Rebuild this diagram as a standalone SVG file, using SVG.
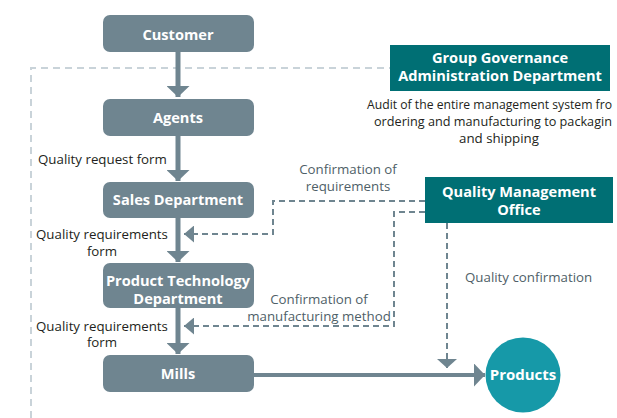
<svg xmlns="http://www.w3.org/2000/svg" width="617" height="418" viewBox="0 0 617 418">
<style>
.node{fill:#6f8590}
.teal{fill:#006f74}
.nt{font-family:"Open Sans","Noto Sans",sans-serif;font-weight:bold;font-size:14.6px;fill:#fff;text-anchor:middle}
.lbl{font-family:"Open Sans","Noto Sans",sans-serif;font-size:13.3px;fill:#231f20}
.glbl{font-family:"Open Sans","Noto Sans",sans-serif;font-size:13.3px;fill:#4f5f68}
.solid{stroke:#6f8590;stroke-width:5;fill:none}
.dash{stroke:#6f8590;stroke-width:2;stroke-dasharray:6 4;fill:none}
.outer{stroke:#c9d3d9;stroke-width:2;stroke-dasharray:7 5;fill:none}
</style>
<defs>
<marker id="ah" viewBox="0 0 11 23" refX="11" refY="11.5" markerWidth="11" markerHeight="23" markerUnits="userSpaceOnUse" orient="auto"><path d="M0,0 L11,11.5 L0,23 z" fill="#6f8590"/></marker>
<marker id="ahd" viewBox="0 0 10 17" refX="10" refY="8.5" markerWidth="10" markerHeight="17" markerUnits="userSpaceOnUse" orient="auto"><path d="M0,0 L10,8.5 L0,17 z" fill="#6f8590"/></marker>
<marker id="ahq" viewBox="0 0 9 20" refX="9" refY="10" markerWidth="9" markerHeight="20" markerUnits="userSpaceOnUse" orient="auto"><path d="M0,0 L9,10 L0,20 z" fill="#6f8590"/></marker>
</defs>
<g id="outline">
<path class="outer" d="M31,418 L31,68 L390,68"/>
</g>
<g id="connectors">
<line class="solid" x1="178" y1="52" x2="178" y2="97" marker-end="url(#ah)"/>
<line class="solid" x1="178" y1="136" x2="178" y2="181" marker-end="url(#ah)"/>
<line class="solid" x1="178" y1="218" x2="178" y2="262" marker-end="url(#ah)"/>
<line class="solid" x1="178" y1="308" x2="178" y2="354" marker-end="url(#ah)"/>
<line stroke="#6f8590" stroke-width="4" x1="254" y1="375" x2="485" y2="375" marker-end="url(#ah)"/>
<path class="dash" d="M425,201 L273,201 L273,234 L184,234" marker-end="url(#ahd)"/>
<path class="dash" d="M425,212 L394,212 L394,326 L184,326" marker-end="url(#ahd)"/>
<path class="dash" d="M447,223 L447,368" marker-end="url(#ahq)"/>
</g>
<g id="customer"><rect class="node" x="103" y="15" width="151" height="37" rx="7"/><text class="nt" x="178" y="40">Customer</text></g>
<g id="agents"><rect class="node" x="103" y="99" width="151" height="37" rx="7"/><text class="nt" x="178" y="122.5">Agents</text></g>
<g id="sales"><rect class="node" x="103" y="182" width="151" height="36" rx="7"/><text class="nt" x="178" y="205">Sales Department</text></g>
<g id="ptd"><rect class="node" x="103" y="263" width="151" height="45" rx="7"/><text class="nt" x="178" y="286">Product Technology</text><text class="nt" x="178" y="304">Department</text></g>
<g id="mills"><rect class="node" x="103" y="355" width="151" height="37" rx="7"/><text class="nt" x="178" y="379">Mills</text></g>
<g id="products"><circle cx="523" cy="375" r="37.5" fill="#1699a8"/><text class="nt" x="523" y="380" style="font-size:15px">Products</text></g>
<g id="group-governance"><rect class="teal" x="390" y="45" width="220" height="46"/><text class="nt" x="500" y="63">Group Governance</text><text class="nt" x="500" y="81">Administration Department</text></g>
<g id="qmo"><rect class="teal" x="425" y="177" width="188" height="46"/><text class="nt" x="519" y="197">Quality Management</text><text class="nt" x="519" y="215">Office</text></g>
<g id="labels">
<text class="lbl" x="367" y="109" textLength="245" lengthAdjust="spacingAndGlyphs">Audit of the entire management system fro</text>
<text class="lbl" x="374" y="126" textLength="238" lengthAdjust="spacingAndGlyphs">ordering and manufacturing to packagin</text>
<text class="lbl" x="499" y="143" text-anchor="middle">and shipping</text>
<text class="lbl" x="38" y="164">Quality request form</text>
<text class="lbl" x="102" y="239" text-anchor="middle">Quality requirements</text>
<text class="lbl" x="102" y="256" text-anchor="middle">form</text>
<text class="lbl" x="102" y="331" text-anchor="middle">Quality requirements</text>
<text class="lbl" x="102" y="347" text-anchor="middle">form</text>
<text class="glbl" x="348" y="174" text-anchor="middle">Confirmation of</text>
<text class="glbl" x="348" y="191" text-anchor="middle">requirements</text>
<text class="glbl" x="319" y="304" text-anchor="middle">Confirmation of</text>
<text class="glbl" x="319" y="321" text-anchor="middle">manufacturing method</text>
<text class="glbl" x="465" y="282">Quality confirmation</text>
</g>
</svg>
